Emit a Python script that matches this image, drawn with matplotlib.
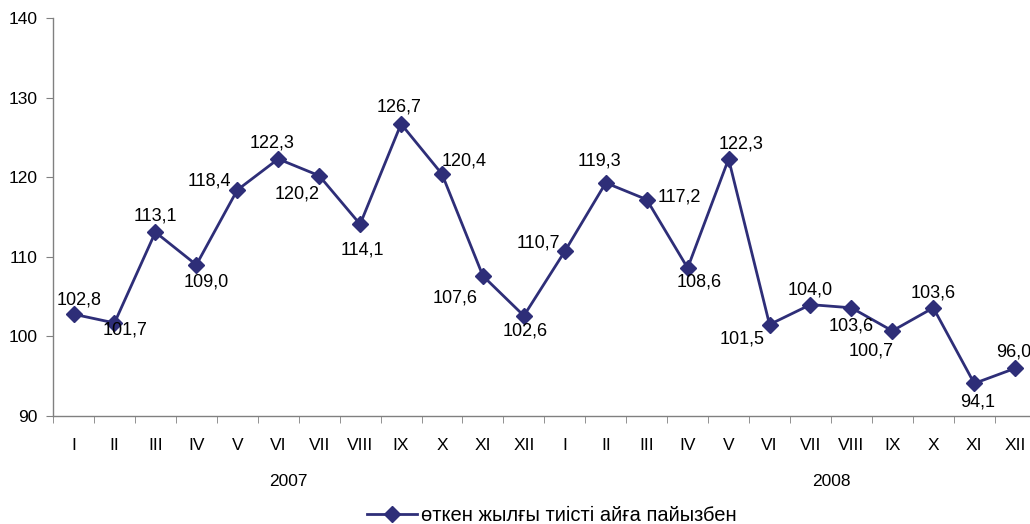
import matplotlib.pyplot as plt
from matplotlib.transforms import blended_transform_factory

plt.rcParams['font.family'] = ['Liberation Sans', 'DejaVu Sans']

months = ['I', 'II', 'III', 'IV', 'V', 'VI', 'VII', 'VIII', 'IX', 'X', 'XI', 'XII'] * 2
years = ['2007', '2008']
values = [102.8, 101.7, 113.1, 109.0, 118.4, 122.3, 120.2, 114.1, 126.7, 120.4, 107.6, 102.6,
          110.7, 119.3, 117.2, 108.6, 122.3, 101.5, 104.0, 103.6, 100.7, 103.6, 94.1, 96.0]
series_name = 'өткен жылғы тиісті айға пайызбен'

# label offsets in pixels (dx, dy)
offsets = [(6, 14), (11, -7), (0, 16), (10, -17), (-28, 9), (-6, 16), (-22, -18), (2, -26),
           (-2, 17), (22, 13), (-28, -22), (1, -15), (-26, 8), (-6, 22), (33, 3), (12, -14),
           (12, 15), (-27, -14), (0, 15), (0, -18), (-21, -20), (0, 15), (3, -19), (-1, 16)]
year_pos = [5.26, 18.5]

color = '#2E2E78'

fig = plt.figure(figsize=(10.3, 5.24), dpi=100)
ax = fig.add_axes([0.0515, 0.206, 0.954, 0.7595])

x = list(range(len(values)))
line, = ax.plot(x, values, color=color, lw=2, marker='D', markersize=8,
                label=series_name, clip_on=False)

for xi, v, (dx, dy) in zip(x, values, offsets):
    ax.annotate(f'{v:.1f}'.replace('.', ','), (xi, v), xytext=(dx, dy),
                textcoords='offset pixels', ha='center', va='center', fontsize=13)

ax.set_xlim(-0.5, len(values) - 0.5)
ax.set_ylim(90, 140)
ax.set_yticks(range(90, 141, 10))
ax.set_xticks(x)
ax.set_xticklabels(months)
ax.set_xticks([i - 0.5 for i in range(len(values) + 1)], minor=True)
ax.tick_params(axis='x', which='major', length=0, pad=16, labelsize=12.5)
ax.tick_params(axis='x', which='minor', length=5, color='#808080', direction='out')
ax.tick_params(axis='y', length=5, color='#808080', labelsize=12.5, pad=6)

for s in ['top', 'right']:
    ax.spines[s].set_visible(False)
for s in ['left', 'bottom']:
    ax.spines[s].set_color('#808080')
    ax.spines[s].set_linewidth(1)

trans = blended_transform_factory(ax.transData, ax.transAxes)
for xp, yr in zip(year_pos, years):
    ax.text(xp, -0.165, yr, transform=trans, ha='center', va='center', fontsize=12.5)

fig.legend(handles=[line], loc='center left', bbox_to_anchor=(0.356, 0.016), frameon=False,
           fontsize=14.5, handlelength=2.5, handletextpad=0.2, borderpad=0, borderaxespad=0)

fig.savefig('out.png', dpi=100)
